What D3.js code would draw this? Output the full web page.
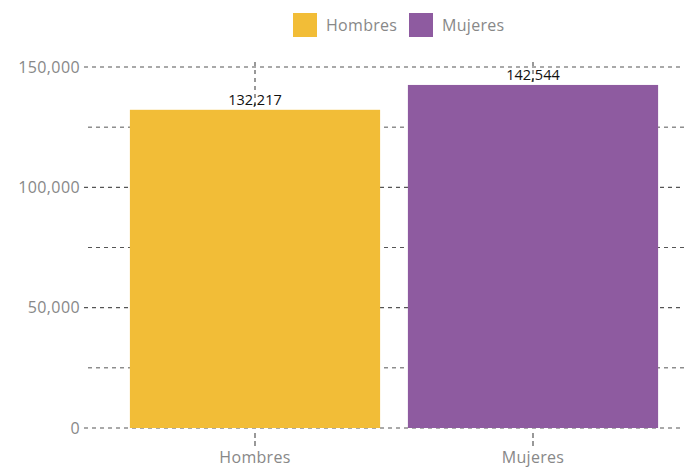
<!DOCTYPE html>
<html><head><meta charset="utf-8">
<script src="https://cdn.jsdelivr.net/npm/d3@7"></script>
<style>body{margin:0;background:#fff}svg{display:block;font-family:"Open Sans",Lato,sans-serif}</style>
</head><body><svg width="684" height="468"></svg>
<script>
const categories = ["Hombres", "Mujeres"];
const values = [132217, 142544];
const colors = ["#F2BD37", "#8E5BA0"];
const yTicks = [0, 50000, 100000, 150000];
const yMinor = [25000, 75000, 125000];

const svg = d3.select("svg");
const x = d3.scaleBand().domain(categories).range([116, 672]).paddingInner(0.1).paddingOuter(0.05);
const y = d3.scaleLinear().domain([0, 150000]).range([428, 67]);
const fmt = d3.format(",");
const dash = "4,4";

svg.append("g").selectAll("line").data(yMinor).join("line")
  .attr("x1", 88).attr("x2", 684).attr("y1", d => y(d)).attr("y2", d => y(d))
  .attr("stroke", "#555").attr("stroke-dasharray", dash).attr("stroke-width", 1);
svg.append("g").selectAll("line").data(yTicks).join("line")
  .attr("x1", 84).attr("x2", 684).attr("y1", d => y(d)).attr("y2", d => y(d))
  .attr("stroke", "#555").attr("stroke-dasharray", dash).attr("stroke-width", 1.2);
svg.append("g").selectAll("line").data(categories).join("line")
  .attr("x1", d => x(d) + x.bandwidth()/2).attr("x2", d => x(d) + x.bandwidth()/2)
  .attr("y1", 62).attr("y2", 428)
  .attr("stroke", "#555").attr("stroke-dasharray", dash).attr("stroke-width", 1.2);

svg.append("g").selectAll("rect").data(categories).join("rect")
  .attr("x", d => x(d)).attr("width", x.bandwidth())
  .attr("y", (d, i) => y(values[i])).attr("height", (d, i) => y(0) - y(values[i]))
  .attr("fill", (d, i) => colors[i]);

svg.append("g").selectAll("text").data(yTicks).join("text")
  .attr("x", 80).attr("y", d => y(d)).attr("dy", "0.35em")
  .attr("text-anchor", "end").attr("fill", "#888").attr("font-size", 16)
  .attr("letter-spacing", 0.4)
  .text(d => fmt(d));

const xa = svg.append("g");
xa.selectAll("line").data(categories).join("line")
  .attr("x1", d => x(d) + x.bandwidth()/2).attr("x2", d => x(d) + x.bandwidth()/2)
  .attr("y1", 433).attr("y2", 449)
  .attr("stroke", "#555").attr("stroke-dasharray", "5,3").attr("stroke-width", 1.2);
xa.selectAll("text").data(categories).join("text")
  .attr("x", d => x(d) + x.bandwidth()/2).attr("y", 463)
  .attr("text-anchor", "middle").attr("fill", "#888").attr("font-size", 16)
  .attr("letter-spacing", 0.3)
  .text(d => d);

svg.append("g").selectAll("text").data(categories).join("text")
  .attr("x", d => x(d) + x.bandwidth()/2).attr("y", (d, i) => y(values[i]) - 5)
  .attr("text-anchor", "middle").attr("fill", "#111").attr("font-size", 14.5)
  .text((d, i) => fmt(values[i]));

const lg = svg.append("g");
const lx = [293, 409];
categories.forEach((c, i) => {
  lg.append("rect").attr("x", lx[i]).attr("y", 13).attr("width", 24).attr("height", 24).attr("fill", colors[i]);
  lg.append("text").attr("x", lx[i] + 33).attr("y", 25).attr("dy", "0.35em")
    .attr("fill", "#888").attr("font-size", 16).attr("letter-spacing", 0.3).text(c);
});
</script></body></html>
